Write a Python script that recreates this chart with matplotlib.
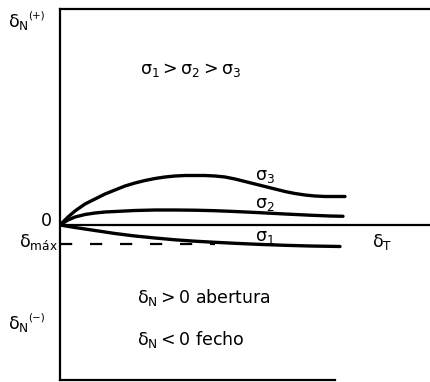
import matplotlib
matplotlib.use("Agg")
import matplotlib.pyplot as plt

plt.rcParams["font.family"] = ["DejaVu Sans"]
plt.rcParams["mathtext.fontset"] = "dejavusans"

# shear displacement (delta_T) and normal displacement (delta_N) for each stress level
dt_s3 = [0, 8, 15, 25, 35, 45, 55, 65, 75, 85, 95, 105, 115, 125, 135, 145,
         155, 165, 175, 185, 195, 205, 215, 225, 235, 245, 255, 265, 275, 285]
dn_s3 = [0, 8, 14, 21, 26, 31, 35, 39, 42, 44.5, 46.5, 48, 49, 49.5, 49.5, 49.5,
         49, 48, 46, 43.5, 41, 38.5, 36, 33.5, 31.5, 30, 29, 28.5, 28.5, 28.5]

dt_s2 = [0, 8, 15, 25, 35, 45, 55, 75, 95, 115, 135, 155, 175, 200, 225, 250, 270, 283]
dn_s2 = [0, 5, 8, 10.5, 12, 13, 13.5, 14.5, 15, 15, 14.8, 14.3, 13.5, 12.3, 11, 9.8, 9, 8.7]

dt_s1 = [0, 15, 35, 55, 75, 95, 115, 135, 155, 175, 200, 225, 250, 280]
dn_s1 = [0, -2.5, -5.5, -8.5, -11, -13, -14.8, -16.2, -17.3, -18.3, -19.4, -20.3, -21, -21.5]

dn_max = -19
dt_max_end = 155

fig = plt.figure(figsize=(4.3, 3.82), dpi=100)
ax = fig.add_axes([60 / 430, 2 / 382, 370 / 430, 371 / 382])
ax.set_xlim(0, 370)
ax.set_ylim(-155, 216)

curve_kw = dict(color="black", lw=2.4, solid_capstyle="round", solid_joinstyle="round")
ax.plot(dt_s3, dn_s3, **curve_kw)
ax.plot(dt_s2, dn_s2, **curve_kw)
ax.plot(dt_s1, dn_s1, **curve_kw)
ax.axhline(0, color="black", lw=1.6)
ax.plot([0, dt_max_end], [dn_max, dn_max], color="black", lw=1.6,
        dashes=(5.5, 8))

for side in ["left", "top", "bottom"]:
    ax.spines[side].set_linewidth(1.6)
ax.spines["right"].set_visible(False)
ax.spines["bottom"].set_bounds(0, 275)
ax.set_xticks([])
ax.set_yticks([])

fs = 12.5
ax.text(-52, 203, r"$\mathregular{\delta_N}$", fontsize=fs, va="center")
ax.text(-32, 209, "(+)", fontsize=7.5, va="center")
ax.text(-52, -99, r"$\mathregular{\delta_N}$", fontsize=fs, va="center")
ax.text(-32, -93, "(\u2212)", fontsize=7.5, va="center")
ax.text(-8, 4, "0", fontsize=fs, ha="right", va="center")
ax.text(-2, -17, r"$\mathregular{\delta_{máx}}$", fontsize=fs, ha="right", va="center")
ax.text(312, -17, r"$\mathregular{\delta_T}$", fontsize=fs, ha="left", va="center")

ax.text(80, 155, r"$\mathregular{\sigma_1 > \sigma_2 > \sigma_3}$", fontsize=fs,
        va="center")
ax.text(205, 49, r"$\mathregular{\sigma_3}$", fontsize=fs, ha="center", va="center")
ax.text(205, 21, r"$\mathregular{\sigma_2}$", fontsize=fs, ha="center", va="center")
ax.text(205, -12, r"$\mathregular{\sigma_1}$", fontsize=fs, ha="center", va="center")

ax.text(77, -72, r"$\mathregular{\delta_N > 0}$ abertura", fontsize=fs, va="center")
ax.text(77, -115, r"$\mathregular{\delta_N < 0}$ fecho", fontsize=fs, va="center")

fig.savefig("out.png", dpi=100)
